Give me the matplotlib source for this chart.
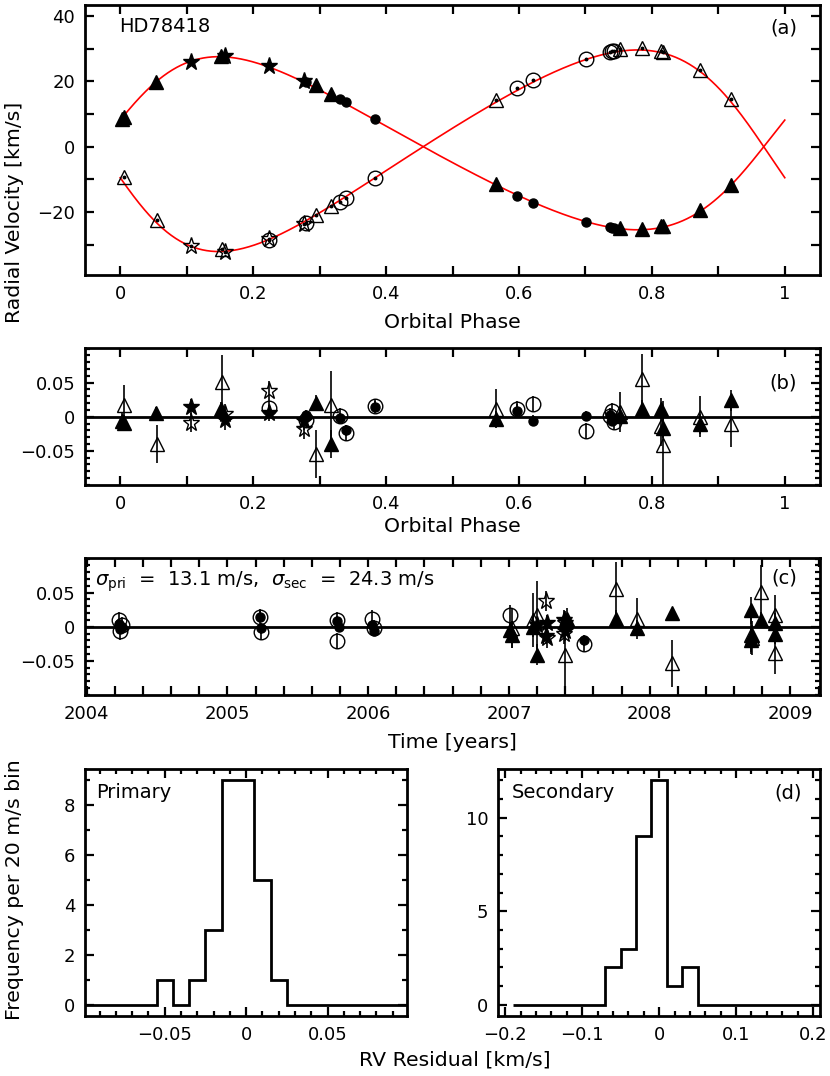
import numpy as np
import matplotlib
matplotlib.use("Agg")
import matplotlib.pyplot as plt
from matplotlib.ticker import MultipleLocator, FixedLocator, FuncFormatter

plt.rcParams['font.family'] = ['DejaVu Sans']
plt.rcParams['font.size'] = 13
plt.rcParams['axes.unicode_minus'] = True

# ---------------- orbital solution (fit parameters for the model curve) ------
ECC = 0.21
OMEGA_DEG = 281.0
T_PERI_PHASE = -0.008
K1 = 26.45
K2 = 30.8
GAMMA = 0.0

# ---------------- panel (a)/(b): phased data -------------------------------
# primary, filled triangles
p_tri_phase = [0.003, 0.006, 0.054, 0.152, 0.295, 0.317, 0.565, 0.752, 0.7845, 0.813, 0.816, 0.873, 0.919]
p_tri_rv    = [8.6, 9.2, 19.9, 27.6, 18.8, 16.1, -11.5, -24.8, -25.0, -24.2, -24.3, -19.2, -11.7]
p_tri_res   = [-0.006, -0.009, 0.006, 0.011, 0.020, -0.040, -0.003, 0.001, 0.012, 0.012, -0.016, -0.011, 0.024]
p_tri_err   = [0.012, 0.012, 0.008, 0.010, 0.012, 0.020, 0.012, 0.012, 0.012, 0.015, 0.015, 0.015, 0.015]
# primary, filled stars
p_star_phase = [0.107, 0.157, 0.2246, 0.277]
p_star_rv    = [26.0, 27.7, 24.8, 20.1]
p_star_res   = [0.014, -0.005, 0.005, -0.007]
p_star_err   = [0.012, 0.015, 0.012, 0.012]
# primary, filled circles
p_circ_phase = [0.279, 0.330, 0.339, 0.384, 0.597, 0.6216, 0.7008, 0.737, 0.740, 0.743]
p_circ_rv    = [19.9, 14.6, 13.6, 8.4, -15.1, -17.1, -23.0, -24.6, -24.7, -24.7]
p_circ_res   = [0.002, -0.002, -0.020, 0.015, 0.009, -0.006, 0.001, 0.002, -0.006, -0.002]
p_circ_err   = [0.008, 0.008, 0.008, 0.008, 0.010, 0.008, 0.008, 0.008, 0.008, 0.008]
# secondary, open triangles
s_tri_phase = [0.005, 0.055, 0.153, 0.295, 0.317, 0.565, 0.752, 0.7845, 0.813, 0.816, 0.873, 0.919]
s_tri_rv    = [-9.2, -22.4, -31.4, -20.9, -18.1, 14.3, 29.8, 30.1, 29.1, 29.0, 23.5, 14.6]
s_tri_res   = [0.017, -0.040, 0.051, -0.055, 0.017, 0.012, 0.007, 0.055, -0.013, -0.042, 0.000, -0.010]
s_tri_err   = [0.030, 0.028, 0.040, 0.035, 0.050, 0.028, 0.030, 0.037, 0.030, 0.065, 0.030, 0.035]
# secondary, open stars
s_star_phase = [0.107, 0.158, 0.2246, 0.276]
s_star_rv    = [-30.4, -32.3, -28.3, -23.5]
s_star_res   = [-0.009, 0.004, 0.038, -0.018]
s_star_err   = [0.014, 0.015, 0.015, 0.015]
# secondary, open circles
s_circ_phase = [0.2246, 0.279, 0.330, 0.339, 0.384, 0.597, 0.6216, 0.7008, 0.737, 0.740, 0.743]
s_circ_rv    = [-28.4, -23.2, -16.8, -15.6, -9.7, 17.9, 20.4, 26.8, 29.0, 29.1, 29.1]
s_circ_res   = [0.013, -0.005, 0.001, -0.024, 0.016, 0.011, 0.019, -0.021, 0.001, 0.008, -0.008]
s_circ_err   = [0.010, 0.012, 0.012, 0.012, 0.010, 0.012, 0.012, 0.012, 0.012, 0.012, 0.012]

# ---------------- panel (c): residuals vs time -------------------------------
p_tri_time = [2007.01, 2007.02, 2007.17, 2007.20, 2007.41, 2007.76, 2007.91, 2008.16, 2008.72, 2008.72, 2008.73, 2008.79, 2008.89, 2008.89]
p_tri_tres = [-0.005, -0.012, 0.000, -0.041, 0.012, 0.012, -0.002, 0.020, 0.024, -0.020, -0.012, 0.010, 0.005, -0.010]
p_tri_terr = [0.012, 0.020, 0.015, 0.015, 0.015, 0.012, 0.012, 0.008, 0.020, 0.020, 0.015, 0.012, 0.015, 0.015]
p_star_time = [2007.20, 2007.26, 2007.27, 2007.39, 2007.40]
p_star_tres = [0.003, -0.014, 0.005, 0.010, -0.006]
p_star_terr = [0.012, 0.012, 0.012, 0.015, 0.015]
p_circ_time = [2004.23, 2004.24, 2004.25, 2005.23, 2005.24, 2005.78, 2005.79, 2006.03, 2006.04, 2007.53]
p_circ_tres = [0.004, -0.003, 0.000, 0.015, -0.002, 0.008, 0.000, 0.002, -0.006, -0.020]
p_circ_terr = [0.008, 0.008, 0.008, 0.008, 0.008, 0.008, 0.008, 0.008, 0.008, 0.008]
s_tri_time = [2007.02, 2007.17, 2007.20, 2007.40, 2007.76, 2007.91, 2008.16, 2008.72, 2008.73, 2008.79, 2008.89, 2008.89]
s_tri_tres = [-0.002, 0.010, 0.017, -0.042, 0.055, 0.012, -0.054, -0.012, -0.017, 0.051, 0.017, -0.039]
s_tri_terr = [0.030, 0.040, 0.050, 0.065, 0.040, 0.030, 0.035, 0.025, 0.025, 0.040, 0.030, 0.030]
s_star_time = [2007.26, 2007.27, 2007.39, 2007.40]
s_star_tres = [0.038, -0.017, -0.010, 0.005]
s_star_terr = [0.015, 0.015, 0.015, 0.015]
s_circ_time = [2004.23, 2004.24, 2004.25, 2005.23, 2005.24, 2005.78, 2005.78, 2006.03, 2006.04, 2007.01, 2007.53]
s_circ_tres = [0.010, -0.007, 0.002, 0.014, -0.008, 0.010, -0.021, 0.012, -0.002, 0.017, -0.025]
s_circ_terr = [0.012, 0.012, 0.012, 0.012, 0.012, 0.012, 0.012, 0.012, 0.012, 0.015, 0.012]

# ---------------- panel (d): histograms -------------------------------------
hist_pri_counts = [0, 0, 0, 0, 0, 1, 0, 1, 3, 9, 9, 5, 1, 0, 0, 0, 0, 0, 0, 0, 0]
hist_pri_start, hist_pri_width = -0.105, 0.01
hist_sec_counts = [0, 0, 0, 0, 0, 0, 2, 3, 9, 12, 1, 2, 0, 0, 0, 0, 0, 0, 0, 0]
hist_sec_start, hist_sec_width = -0.19, 0.02

# ---------------- model curve ------------------------------------------------
def kepler_rv(phase, K, omega_deg):
    M = 2 * np.pi * (phase - T_PERI_PHASE)
    E = M.copy()
    for _ in range(50):
        E = E - (E - ECC * np.sin(E) - M) / (1 - ECC * np.cos(E))
    nu = 2 * np.arctan2(np.sqrt(1 + ECC) * np.sin(E / 2), np.sqrt(1 - ECC) * np.cos(E / 2))
    w = np.radians(omega_deg)
    return GAMMA + K * (np.cos(nu + w) + ECC * np.cos(w))

phase_grid = np.linspace(0, 1, 600)
rv1_model = kepler_rv(phase_grid, K1, OMEGA_DEG)
rv2_model = kepler_rv(phase_grid, K2, OMEGA_DEG + 180.0)

# ---------------- figure -----------------------------------------------------
W, H = 830, 1076
fig = plt.figure(figsize=(W / 100, H / 100), dpi=100)

def ax_px(x0, y0, x1, y1):
    return fig.add_axes([x0 / W, 1 - y1 / H, (x1 - x0) / W, (y1 - y0) / H])

axA = ax_px(85, 5, 820, 275)
axB = ax_px(85, 348, 820, 485)
axC = ax_px(85, 558, 820, 695)
axD1 = ax_px(85, 769, 407, 1016)
axD2 = ax_px(498, 769, 820, 1016)

def fmt_tick(v, pos=None):
    if abs(v) < 1e-9:
        return '0'
    if abs(v - round(v)) < 1e-9:
        s = '%d' % round(v)
    else:
        s = ('%.2f' % v).rstrip('0').rstrip('.')
    return s.replace('-', '\u2212')

ff = FuncFormatter(fmt_tick)

def style(ax, xmaj, xmin, ymaj, ymin, minor_len=3.5):
    for s in ax.spines.values():
        s.set_linewidth(2.0)
    ax.xaxis.set_major_locator(xmaj if not isinstance(xmaj, (int, float)) else MultipleLocator(xmaj))
    ax.xaxis.set_minor_locator(MultipleLocator(xmin))
    ax.yaxis.set_major_locator(ymaj if not isinstance(ymaj, (int, float)) else MultipleLocator(ymaj))
    ax.yaxis.set_minor_locator(MultipleLocator(ymin))
    ax.tick_params(which='both', direction='in', top=True, right=True, width=1.6, labelsize=13, pad=7)
    ax.tick_params(which='major', length=6.5)
    ax.tick_params(which='minor', length=minor_len)
    ax.xaxis.set_major_formatter(ff)
    ax.yaxis.set_major_formatter(ff)

TRI_MS, STAR_MS, OC_MS, FC_MS = 9.5, 12.5, 10.5, 6.5
TXT = 14

# ----- panel (a)
axA.plot(phase_grid, rv1_model, color='red', lw=1.2, zorder=1)
axA.plot(phase_grid, rv2_model, color='red', lw=1.2, zorder=1)
for ph, rv, mk, ms in [(s_tri_phase, s_tri_rv, '^', TRI_MS + 1),
                       (s_star_phase, s_star_rv, '*', STAR_MS),
                       (s_circ_phase, s_circ_rv, 'o', OC_MS)]:
    axA.plot(ph, rv, ls='none', marker=mk, ms=ms, mfc='none', mec='black', mew=1.0, zorder=3)
    axA.plot(ph, rv, ls='none', marker='o', ms=1.8, color='black', zorder=4)
for ph, rv, mk, ms in [(p_tri_phase, p_tri_rv, '^', TRI_MS),
                       (p_star_phase, p_star_rv, '*', STAR_MS),
                       (p_circ_phase, p_circ_rv, 'o', FC_MS)]:
    axA.plot(ph, rv, ls='none', marker=mk, ms=ms, color='black', mec='black', zorder=3)
axA.set_xlim(-0.053, 1.053)
axA.set_ylim(-39.2, 43.3)
style(axA, 0.2, 0.1, 20, 10, minor_len=6.5)
axA.text(0.047, 0.922, 'HD78418', transform=axA.transAxes, ha='left', va='center', fontsize=TXT)
axA.text(0.969, 0.915, '(a)', transform=axA.transAxes, ha='right', va='center', fontsize=TXT)

# ----- residual helper
def residual_panel(ax, groups):
    ax.axhline(0, color='black', lw=2.0, zorder=1)
    for x, r, e, mk, ms, filled in groups:
        ax.errorbar(x, r, yerr=e, fmt='none', ecolor='black', elinewidth=1.2, capsize=0, zorder=2)
    for x, r, e, mk, ms, filled in groups:
        if filled:
            ax.plot(x, r, ls='none', marker=mk, ms=ms, color='black', zorder=4)
        else:
            ax.plot(x, r, ls='none', marker=mk, ms=ms, mfc='none', mec='black', mew=1.0, zorder=3)
    ax.set_ylim(-0.1004, 0.101)

res_ticks = FixedLocator([-0.05, 0.0, 0.05])

residual_panel(axB, [
    (s_tri_phase, s_tri_res, s_tri_err, '^', TRI_MS + 1, False),
    (s_star_phase, s_star_res, s_star_err, '*', STAR_MS, False),
    (s_circ_phase, s_circ_res, s_circ_err, 'o', OC_MS, False),
    (p_tri_phase, p_tri_res, p_tri_err, '^', TRI_MS, True),
    (p_star_phase, p_star_res, p_star_err, '*', STAR_MS, True),
    (p_circ_phase, p_circ_res, p_circ_err, 'o', FC_MS, True),
])
axB.set_xlim(-0.053, 1.053)
style(axB, 0.2, 0.1, res_ticks, 0.01)
axB.tick_params(axis='x', which='minor', length=6.5)
axB.text(0.969, 0.745, '(b)', transform=axB.transAxes, ha='right', va='center', fontsize=TXT)

residual_panel(axC, [
    (s_tri_time, s_tri_tres, s_tri_terr, '^', TRI_MS + 1, False),
    (s_star_time, s_star_tres, s_star_terr, '*', STAR_MS, False),
    (s_circ_time, s_circ_tres, s_circ_terr, 'o', OC_MS, False),
    (p_tri_time, p_tri_tres, p_tri_terr, '^', TRI_MS, True),
    (p_star_time, p_star_tres, p_star_terr, '*', STAR_MS, True),
    (p_circ_time, p_circ_tres, p_circ_terr, 'o', FC_MS, True),
])
axC.set_xlim(2003.988, 2009.21)
style(axC, 1, 0.2, res_ticks, 0.01, minor_len=6.5)
axC.tick_params(axis='y', which='minor', length=3.5)
axC.text(0.0136, 0.827, r'$\sigma_{\rm pri}$  =  13.1 m/s,  $\sigma_{\rm sec}$  =  24.3 m/s',
         transform=axC.transAxes, ha='left', va='center', fontsize=TXT)
axC.text(0.969, 0.852, '(c)', transform=axC.transAxes, ha='right', va='center', fontsize=TXT)

# ----- histograms
pri_edges = hist_pri_start + hist_pri_width * np.arange(len(hist_pri_counts) + 1)
sec_edges = hist_sec_start + hist_sec_width * np.arange(len(hist_sec_counts) + 1)
axD1.stairs(hist_pri_counts, pri_edges, color='black', lw=2.0)
axD2.stairs(hist_sec_counts, sec_edges, color='black', lw=2.0)
axD1.set_xlim(-0.099, 0.0988)
axD1.set_ylim(-0.45, 9.45)
axD2.set_xlim(-0.2093, 0.209)
axD2.set_ylim(-0.6, 12.6)
style(axD1, 0.05, 0.01, 2, 1)
style(axD2, 0.1, 0.02, 5, 1)
axD1.text(0.036, 0.903, 'Primary', transform=axD1.transAxes, ha='left', va='center', fontsize=TXT)
axD2.text(0.042, 0.903, 'Secondary', transform=axD2.transAxes, ha='left', va='center', fontsize=TXT)
axD2.text(0.943, 0.903, '(d)', transform=axD2.transAxes, ha='right', va='center', fontsize=TXT)

# ----- axis labels
fs = 14.7
fig.text(452 / W, 1 - 323 / H, 'Orbital Phase', ha='center', va='center', fontsize=fs)
fig.text(452 / W, 1 - 527 / H, 'Orbital Phase', ha='center', va='center', fontsize=fs)
fig.text(452 / W, 1 - 742 / H, 'Time [years]', ha='center', va='center', fontsize=fs)
fig.text(455 / W, 1 - 1060 / H, 'RV Residual [km/s]', ha='center', va='center', fontsize=fs)
fig.text(15 / W, 1 - 212 / H, 'Radial Velocity [km/s]', ha='center', va='center', rotation=90, fontsize=fs)
fig.text(15 / W, 1 - 890 / H, 'Frequency per 20 m/s bin', ha='center', va='center', rotation=90, fontsize=fs)

fig.savefig('out.png', dpi=100)
